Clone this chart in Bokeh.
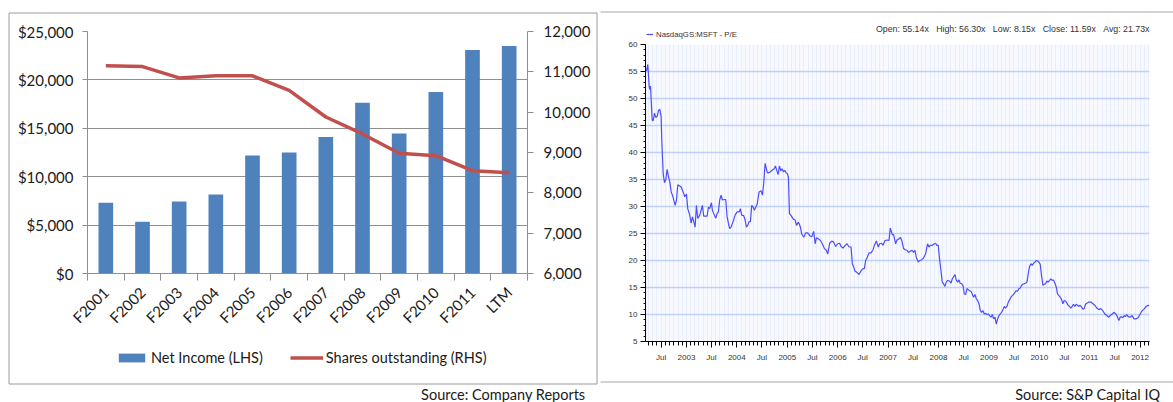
import math
import pandas as pd
from bokeh.plotting import figure
from bokeh.models import (Range1d, LinearAxis, FixedTicker, NumeralTickFormatter,
                          Legend, LegendItem)
from bokeh.layouts import row
from bokeh.core.properties import value
from bokeh.embed import file_html
from bokeh.resources import INLINE

# ---------------- Left chart data ----------------
categories = ["F2001", "F2002", "F2003", "F2004", "F2005", "F2006",
              "F2007", "F2008", "F2009", "F2010", "F2011", "LTM"]
net_income = [7300, 5350, 7450, 8150, 12200, 12500, 14100, 17650, 14450, 18750, 23100, 23500]
shares_outstanding = [11150, 11130, 10850, 10900, 10900, 10540, 9880, 9460, 8980, 8920, 8550, 8500]
left_ticks = [0, 5000, 10000, 15000, 20000, 25000]
right_ticks = [6000, 7000, 8000, 9000, 10000, 11000, 12000]
left_legend = ["Net Income (LHS)", "Shares outstanding (RHS)"]
left_source = "Source: Company Reports"

# ---------------- Right chart data (time in decimal years, P/E multiple) ----------------
pe_year = [
    2002.207, 2002.233, 2002.260, 2002.272, 2002.286, 2002.300, 2002.320, 2002.340, 2002.366, 2002.391,
    2002.419, 2002.445, 2002.471, 2002.498, 2002.510, 2002.538, 2002.564, 2002.590, 2002.617, 2002.643,
    2002.669, 2002.697, 2002.722, 2002.776, 2002.802, 2002.828, 2002.867, 2002.895, 2002.935, 2002.966,
    2003.000, 2003.026, 2003.065, 2003.093, 2003.119, 2003.145, 2003.172, 2003.198, 2003.224, 2003.264,
    2003.291, 2003.317, 2003.343, 2003.383, 2003.410, 2003.436, 2003.462, 2003.496, 2003.515, 2003.555,
    2003.581, 2003.609, 2003.634, 2003.660, 2003.688, 2003.714, 2003.753, 2003.779, 2003.807, 2003.833,
    2003.858, 2003.886, 2003.926, 2003.966, 2004.005, 2004.045, 2004.071, 2004.096, 2004.136, 2004.164,
    2004.190, 2004.215, 2004.243, 2004.269, 2004.295, 2004.322, 2004.348, 2004.374, 2004.402, 2004.441,
    2004.481, 2004.507, 2004.533, 2004.560, 2004.600, 2004.620, 2004.659, 2004.699, 2004.739, 2004.765,
    2004.790, 2004.818, 2004.844, 2004.870, 2004.897, 2004.923, 2004.949, 2004.977, 2005.002, 2005.022,
    2005.042, 2005.076, 2005.115, 2005.155, 2005.181, 2005.221, 2005.260, 2005.286, 2005.326, 2005.365,
    2005.405, 2005.445, 2005.484, 2005.524, 2005.552, 2005.577, 2005.617, 2005.657, 2005.696, 2005.736,
    2005.776, 2005.801, 2005.841, 2005.881, 2005.920, 2005.960, 2006.000, 2006.039, 2006.067, 2006.107,
    2006.146, 2006.186, 2006.226, 2006.265, 2006.291, 2006.317, 2006.345, 2006.384, 2006.424, 2006.464,
    2006.503, 2006.529, 2006.555, 2006.583, 2006.622, 2006.662, 2006.702, 2006.727, 2006.767, 2006.807,
    2006.832, 2006.872, 2006.900, 2006.939, 2006.979, 2007.019, 2007.044, 2007.084, 2007.110, 2007.150,
    2007.177, 2007.217, 2007.243, 2007.276, 2007.308, 2007.342, 2007.376, 2007.407, 2007.441, 2007.475,
    2007.507, 2007.534, 2007.560, 2007.600, 2007.625, 2007.665, 2007.705, 2007.744, 2007.784, 2007.812,
    2007.838, 2007.877, 2007.903, 2007.943, 2007.970, 2007.996, 2008.022, 2008.050, 2008.075, 2008.101,
    2008.129, 2008.155, 2008.181, 2008.220, 2008.248, 2008.274, 2008.300, 2008.327, 2008.353, 2008.379,
    2008.407, 2008.432, 2008.458, 2008.486, 2008.512, 2008.537, 2008.565, 2008.591, 2008.617, 2008.644,
    2008.670, 2008.696, 2008.724, 2008.750, 2008.775, 2008.803, 2008.829, 2008.855, 2008.882, 2008.908,
    2008.934, 2008.962, 2008.987, 2009.013, 2009.041, 2009.067, 2009.093, 2009.120, 2009.146, 2009.172,
    2009.200, 2009.225, 2009.251, 2009.279, 2009.305, 2009.330, 2009.358, 2009.384, 2009.410, 2009.437,
    2009.463, 2009.489, 2009.517, 2009.542, 2009.568, 2009.596, 2009.622, 2009.648, 2009.675, 2009.701,
    2009.727, 2009.755, 2009.780, 2009.806, 2009.834, 2009.860, 2009.886, 2009.913, 2009.939, 2009.965,
    2009.993, 2010.018, 2010.044, 2010.072, 2010.098, 2010.124, 2010.151, 2010.177, 2010.203, 2010.230,
    2010.256, 2010.282, 2010.310, 2010.336, 2010.361, 2010.389, 2010.415, 2010.441, 2010.468, 2010.494,
    2010.520, 2010.548, 2010.574, 2010.599, 2010.627, 2010.653, 2010.679, 2010.706, 2010.732, 2010.758,
    2010.786, 2010.811, 2010.837, 2010.865, 2010.891, 2010.917, 2010.944, 2010.984, 2011.024, 2011.063,
    2011.103, 2011.143, 2011.182, 2011.222, 2011.261, 2011.301, 2011.341, 2011.380, 2011.406, 2011.446,
    2011.486, 2011.511, 2011.539, 2011.579, 2011.605, 2011.630, 2011.658, 2011.684, 2011.710, 2011.737,
    2011.763, 2011.803, 2011.843, 2011.882, 2011.922, 2011.962, 2012.001, 2012.041, 2012.080, 2012.120,
    2012.160, 2012.185,
]
pe_value = [
    55.1, 56.3, 52.2, 51.7, 52.3, 49.7, 46.0, 45.9, 47.3, 46.5,
    46.7, 47.8, 48.0, 46.6, 42.3, 36.1, 34.4, 35.0, 36.9, 35.5,
    34.6, 32.7, 32.1, 30.2, 31.2, 34.0, 33.8, 33.6, 32.7, 31.8,
    32.3, 29.6, 28.4, 26.9, 28.1, 27.2, 26.2, 30.2, 27.8, 28.4,
    29.3, 30.2, 28.2, 28.2, 28.2, 29.9, 29.6, 30.7, 29.3, 28.4,
    27.8, 28.7, 29.0, 31.2, 32.1, 31.2, 31.3, 31.3, 28.1, 26.9,
    25.9, 26.2, 27.2, 28.4, 29.0, 29.0, 29.6, 28.4, 28.3, 27.5,
    26.2, 26.5, 27.2, 27.2, 30.2, 29.9, 29.3, 29.9, 30.4, 32.7,
    32.9, 32.1, 34.3, 38.0, 36.4, 36.2, 36.4, 36.7, 37.0, 37.5,
    36.7, 35.9, 37.5, 36.6, 37.0, 36.4, 36.7, 36.2, 36.1, 35.4,
    28.7, 28.3, 27.7, 27.5, 26.5, 27.1, 26.2, 24.9, 24.3, 25.1,
    25.1, 24.6, 24.4, 25.4, 23.1, 24.2, 24.0, 23.7, 23.1, 22.2,
    21.9, 21.2, 23.2, 23.6, 23.4, 22.6, 23.1, 23.2, 22.6, 22.3,
    22.8, 23.1, 22.5, 22.5, 19.4, 18.8, 18.0, 17.8, 17.4, 18.1,
    18.5, 18.5, 20.0, 20.5, 21.4, 21.4, 22.0, 22.8, 23.6, 22.5,
    23.1, 23.2, 22.8, 23.7, 23.8, 23.7, 26.0, 24.8, 24.8, 23.1,
    23.8, 24.0, 24.3, 23.6, 22.2, 22.0, 21.9, 21.5, 21.7, 21.9,
    21.5, 21.9, 20.6, 19.7, 20.0, 20.1, 20.5, 21.2, 23.1, 22.5,
    22.8, 22.8, 23.0, 23.2, 22.8, 22.8, 20.3, 18.1, 16.0, 15.7,
    15.2, 16.0, 16.3, 16.2, 15.8, 16.6, 17.0, 17.4, 16.4, 16.0,
    16.4, 15.8, 15.7, 15.4, 13.8, 13.7, 14.8, 14.6, 14.4, 14.3,
    13.8, 13.2, 13.7, 12.9, 12.6, 12.0, 10.7, 10.4, 10.7, 10.1,
    10.2, 10.0, 10.1, 9.8, 9.5, 10.0, 9.2, 9.5, 8.2, 9.2,
    9.8, 10.1, 10.4, 10.9, 11.5, 11.2, 11.5, 12.3, 12.7, 13.2,
    13.5, 13.7, 14.1, 14.4, 14.3, 14.8, 14.9, 15.4, 15.6, 15.7,
    15.8, 16.0, 17.5, 18.9, 19.4, 19.1, 19.5, 19.7, 20.0, 19.9,
    19.7, 19.3, 17.2, 15.4, 15.6, 15.7, 16.2, 16.0, 16.3, 16.6,
    16.3, 16.4, 15.8, 15.1, 13.8, 13.5, 13.2, 12.8, 12.0, 12.6,
    12.5, 12.1, 11.7, 11.5, 11.2, 11.5, 11.9, 11.5, 11.9, 11.7,
    11.5, 11.7, 11.4, 11.0, 11.1, 11.9, 12.1, 12.3, 12.3, 12.0,
    11.7, 11.2, 10.9, 11.1, 10.7, 10.1, 9.8, 9.5, 9.8, 10.1,
    10.4, 10.2, 9.8, 8.9, 9.5, 9.6, 9.4, 9.8, 9.6, 10.0,
    9.6, 9.5, 9.8, 9.2, 9.2, 9.4, 10.1, 10.7, 11.0, 11.5,
    11.7, 11.6,
]
pe_window = [2002.187, 2012.187]
pe_ticks = list(range(5, 61, 5))
pe_series_name = "NasdaqGS:MSFT - P/E"
pe_stats = ("Open: 55.14x\u00a0\u00a0\u00a0High: 56.30x\u00a0\u00a0\u00a0Low: 8.15x"
            "\u00a0\u00a0\u00a0Close: 11.59x\u00a0\u00a0\u00a0Avg: 21.73x")
right_source = "Source: S&P Capital IQ"


def yr_to_ms(y):
    yi = int(math.floor(y))
    a = pd.Timestamp(year=yi, month=1, day=1)
    b = pd.Timestamp(year=yi + 1, month=1, day=1)
    return (a + (b - a) * (y - yi)).value / 1e6


def ts_ms(y, m):
    return pd.Timestamp(year=y, month=m, day=1).value / 1e6


def no_align(fig):
    if "frame_align" in fig.properties():
        fig.frame_align = False


GRAY = "#8f8f8f"
TXT = "#1a1a1a"
LFONT = "Lato"
BAR_C = "#4F81BD"
LINE_C = "#C0504D"
PE_C = "#4D4DFF"
RFONT = "Liberation Sans"
RTXT = "#333333"

# ================= LEFT FIGURE =================
xpos = [i + 0.5 for i in range(len(categories))]
L = figure(width=600, height=402, x_range=Range1d(0, len(categories)),
           y_range=Range1d(left_ticks[0], left_ticks[-1]),
           output_backend="svg", toolbar_location=None,
           min_border_left=87, min_border_right=73, min_border_top=31, min_border_bottom=129,
           outline_line_color=None, background_fill_color="white", border_fill_color="white")
L.extra_y_ranges = {"shares": Range1d(right_ticks[0], right_ticks[-1])}
no_align(L)

bars = L.vbar(x=xpos, top=net_income, width=0.4, fill_color=BAR_C, line_color=None)
sline = L.line(x=xpos, y=shares_outstanding, y_range_name="shares",
               line_color=LINE_C, line_width=3.5, line_join="round")

xa = L.xaxis[0]
xa.ticker = FixedTicker(ticks=xpos, minor_ticks=list(range(len(categories) + 1)))
xa.major_label_overrides = {x: c for x, c in zip(xpos, categories)}
xa.major_label_orientation = math.pi / 4
xa.major_tick_line_color = None
xa.major_tick_out = 7
xa.major_tick_in = 0
xa.minor_tick_in = 0
xa.minor_tick_out = 7
xa.minor_tick_line_color = GRAY
xa.axis_line_color = GRAY
xa.major_label_standoff = 9
xa.major_label_text_font = LFONT
xa.major_label_text_font_size = "15px"
xa.major_label_text_color = TXT

ya = L.yaxis[0]
ya.ticker = FixedTicker(ticks=left_ticks)
ya.formatter = NumeralTickFormatter(format="$0,0")
ya.major_tick_out = 5
ya.major_tick_in = 0
ya.minor_tick_line_color = None
ya.major_tick_line_color = GRAY
ya.axis_line_color = GRAY
ya.major_label_standoff = 9
ya.major_label_text_font = LFONT
ya.major_label_text_font_size = "15px"
ya.major_label_text_color = TXT

ra = LinearAxis(y_range_name="shares", ticker=FixedTicker(ticks=right_ticks),
                formatter=NumeralTickFormatter(format="0,0"))
ra.major_tick_out = 6
ra.major_tick_in = 0
ra.minor_tick_line_color = None
ra.major_tick_line_color = GRAY
ra.axis_line_color = GRAY
ra.major_label_standoff = 10
ra.major_label_text_font = LFONT
ra.major_label_text_font_size = "15px"
ra.major_label_text_color = TXT
L.add_layout(ra, "right")

L.xgrid.visible = False
L.ygrid.ticker = FixedTicker(ticks=left_ticks)
L.ygrid.grid_line_color = GRAY
L.ygrid.grid_line_width = 1

# ================= RIGHT FIGURE =================
pe_x = [yr_to_ms(y) for y in pe_year]

R = figure(width=573, height=402, x_axis_type="datetime",
           x_range=Range1d(yr_to_ms(pe_window[0]), yr_to_ms(pe_window[1])),
           y_range=Range1d(pe_ticks[0], pe_ticks[-1]),
           output_backend="svg", toolbar_location=None,
           min_border_left=45, min_border_right=24, min_border_top=44, min_border_bottom=61,
           outline_line_color=None, background_fill_color="#F7F9FF", border_fill_color="white")
no_align(R)

pe_line = R.line(x=pe_x, y=pe_value, line_color=PE_C, line_width=1.2)

major_ms, major_lab = [], {}
for yy in range(2002, 2013):
    for mm in (1, 7):
        t = ts_ms(yy, mm)
        if yr_to_ms(pe_window[0]) <= t <= yr_to_ms(pe_window[1]):
            major_ms.append(t)
            major_lab[t] = str(yy) if mm == 1 else "Jul"
monthly_ms = [ts_ms(yy, mm) for yy in range(2002, 2013) for mm in range(1, 13)
              if yr_to_ms(pe_window[0]) <= ts_ms(yy, mm) <= yr_to_ms(pe_window[1])]

rx = R.xaxis[0]
rx.ticker = FixedTicker(ticks=major_ms, minor_ticks=monthly_ms)
rx.major_label_overrides = major_lab
rx.major_tick_out = 6
rx.major_tick_in = 0
rx.minor_tick_out = 4
rx.minor_tick_in = 0
rx.axis_line_color = "black"
rx.major_tick_line_color = "black"
rx.minor_tick_line_color = "black"
rx.major_label_standoff = 5
rx.major_label_text_font = RFONT
rx.major_label_text_font_size = "8px"
rx.major_label_text_color = RTXT

ry = R.yaxis[0]
ry.ticker = FixedTicker(ticks=pe_ticks, minor_ticks=list(range(5, 61)))
ry.major_tick_out = 5
ry.major_tick_in = 0
ry.minor_tick_out = 2
ry.minor_tick_in = 0
ry.axis_line_color = "black"
ry.major_tick_line_color = "black"
ry.minor_tick_line_color = "black"
ry.major_label_standoff = 3
ry.major_label_text_font = RFONT
ry.major_label_text_font_size = "8px"
ry.major_label_text_color = RTXT

R.ygrid.ticker = FixedTicker(ticks=pe_ticks)
R.ygrid.grid_line_color = "#BFD1FA"
R.ygrid.grid_line_width = 1.3
R.xgrid.ticker = FixedTicker(ticks=monthly_ms)
R.xgrid.grid_line_color = "#E8EEFC"
R.xgrid.grid_line_width = 1

# ================= OVERLAY (frames, captions, legends) =================
O = figure(width=1173, height=402, x_range=Range1d(0, 1173), y_range=Range1d(402, 0),
           output_backend="svg", toolbar_location=None,
           x_axis_location=None, y_axis_location=None,
           min_border=0, min_border_left=0, min_border_right=0,
           min_border_top=0, min_border_bottom=0,
           outline_line_color=None, background_fill_color=None, border_fill_color=None)
O.xgrid.visible = False
O.ygrid.visible = False
O.quad(left=[8.5], right=[596.5], top=[12.5], bottom=[383.5],
       fill_color=None, line_color="#9a9a9a", line_width=1)
O.segment(x0=[600, 600], y0=[11.5, 381.5], x1=[1173, 1173], y1=[11.5, 381.5],
          line_color="#a6a6a6", line_width=1)
O.text(x=[585], y=[393.5], text=[left_source], text_align="right",
       text_baseline="middle", text_font=value(LFONT), text_font_size=value("14.5px"),
       text_color=TXT)
O.text(x=[1160], y=[393.5], text=[right_source], text_align="right",
       text_baseline="middle", text_font=value(LFONT), text_font_size=value("14.5px"),
       text_color=TXT)
O.text(x=[1149], y=[28.5], text=[pe_stats], text_align="right",
       text_baseline="middle", text_font=value(RFONT), text_font_size=value("8.8px"),
       text_color=RTXT)

# legend keys styled like the chart series (their single point sits off-canvas)
key_bar = O.vbar(x=[-100], bottom=[-120], top=[-110], width=1, fill_color=BAR_C, line_color=None)
key_line = O.line(x=[-120, -100], y=[-100, -100], line_color=LINE_C, line_width=3.5)
key_pe = O.line(x=[-120, -100], y=[-100, -100], line_color=PE_C, line_width=1.2)

lleg = Legend(items=[LegendItem(label=left_legend[0], renderers=[key_bar]),
                     LegendItem(label=left_legend[1], renderers=[key_line])],
              location=(115, 36), orientation="horizontal",
              glyph_width=33, glyph_height=11, label_height=11, label_standoff=3,
              spacing=27, padding=0, margin=0, border_line_color=None,
              background_fill_alpha=0, label_text_font=LFONT,
              label_text_font_size="14.5px", label_text_color=TXT)
O.add_layout(lleg)
rleg = Legend(items=[LegendItem(label=pe_series_name, renderers=[key_pe])],
              location=(646, 363), orientation="horizontal",
              glyph_width=7, glyph_height=10, label_height=10, label_standoff=3,
              padding=0, margin=0, border_line_color=None, background_fill_alpha=0,
              label_text_font=RFONT, label_text_font_size="7.8px", label_text_color=RTXT)
O.add_layout(rleg)
O.styles = {"position": "absolute", "left": "0px", "top": "0px"}

open("out.html", "w").write(file_html([row(L, R), O], INLINE))
